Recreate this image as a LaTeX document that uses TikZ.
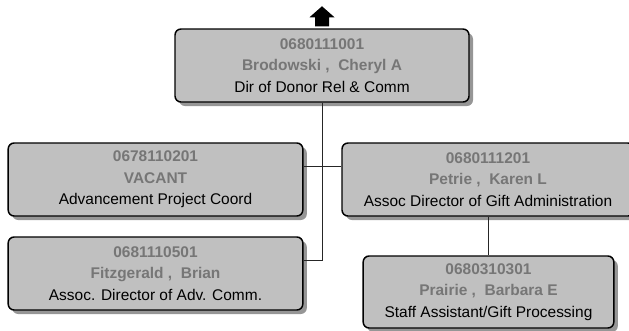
\documentclass[tikz,border=0pt]{standalone}
\usepackage{fontspec}
\setmainfont{Liberation Sans}
\usetikzlibrary{shadows}

\definecolor{boxfill}{RGB}{192,192,192}
\definecolor{boxshade}{RGB}{150,150,150}
\definecolor{idgray}{RGB}{118,118,118}

\newcommand{\pid}[1]{\textcolor{idgray}{\textbf{#1}}}

\tikzset{
  posbox/.style={draw,fill=boxfill,rounded corners=4.5pt,line width=1.1pt,
    align=center,inner sep=0pt,minimum height=54.75pt,
    drop shadow={shadow xshift=3pt,shadow yshift=-3pt,fill=boxshade,opacity=1}},
  link/.style={draw=black!85,line width=0.75pt}
}

\begin{document}
\begin{tikzpicture}[x=0.75pt,y=-0.75pt,
    every node/.style={font=\fontsize{11.6}{16}\selectfont}]
    \useasboundingbox (0,0) rectangle (629,330);
        \node[posbox,minimum width=220.5pt] (top) at (322,65.5) {\pid{0680111001}\\\pid{Brodowski , \ Cheryl A}\\Dir of Donor Rel \& Comm};
        \node[posbox,minimum width=221pt] (vacant) at (155.5,179.5) {\pid{0678110201}\\\pid{VACANT}\\Advancement Project Coord};
        \node[posbox,minimum width=221pt] (fitz) at (155.5,273.5) {\pid{0681110501}\\\pid{Fitzgerald , \ Brian}\\Assoc. Director of Adv. Comm.};
        \node[posbox,minimum width=219pt] (petrie) at (488,179.5) {\pid{0680111201}\\\pid{Petrie , \ Karen L}\\Assoc Director of Gift Administration};
        \node[posbox,minimum width=188pt,minimum height=54pt] (prairie) at (488.5,292) {\pid{0680310301}\\\pid{Prairie , \ Barbara E}\\Staff Assistant/Gift Processing};
        % reports-to lines
        \draw[link] (top.south) |- ([yshift=9.4pt]fitz.east);
        \draw[link] ([yshift=9.4pt]vacant.east) -- ([yshift=9.4pt]petrie.west);
        \draw[link] (petrie.south) -- (petrie.south |- prairie.north);
        % up arrow above the top position
        \fill ([yshift=1.5pt]top.north) +(-7,0) -- +(-7,-9) -- +(-12.5,-9) -- +(0,-20)
            -- +(12.5,-9) -- +(7,-9) -- +(7,0) -- cycle;
    \end{tikzpicture}
\end{document}
